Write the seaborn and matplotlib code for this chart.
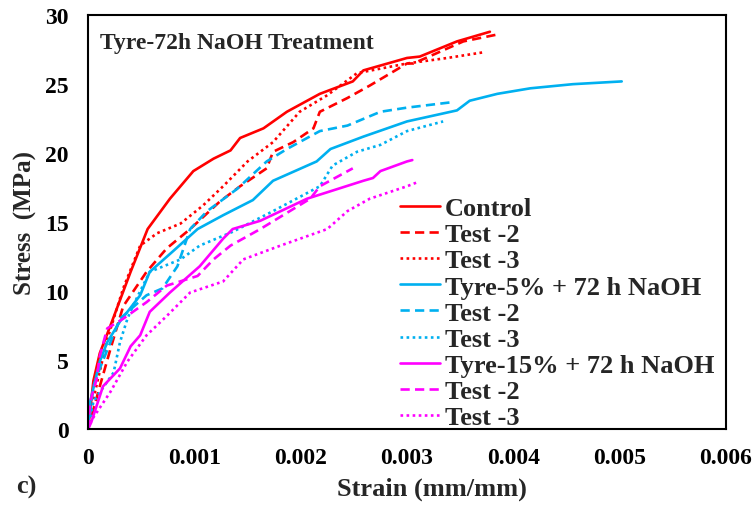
import matplotlib
matplotlib.use("Agg")
import matplotlib.pyplot as plt
import seaborn as sns
import pandas as pd

# ---- data (strain mm/mm, stress MPa) ----
ctrl1_x = [0, 0.00005, 0.00011, 0.00021, 0.0004, 0.00056, 0.00077, 0.00099, 0.00118, 0.00134, 0.00143, 0.00165, 0.00187, 0.00218, 0.00249, 0.00259, 0.0030, 0.00312, 0.00347, 0.00378]
ctrl1_y = [0, 3.5, 5.5, 7.5, 11.4, 14.5, 16.7, 18.7, 19.6, 20.2, 21.1, 21.8, 23.0, 24.3, 25.2, 26.0, 26.9, 27.0, 28.1, 28.8]
ctrl2_x = [0, 0.00011, 0.00021, 0.00033, 0.0004, 0.00055, 0.00074, 0.00096, 0.00124, 0.00143, 0.00168, 0.00174, 0.00193, 0.00212, 0.00218, 0.00244, 0.00265, 0.0030, 0.00306, 0.00353, 0.00385]
ctrl2_y = [0, 3.1, 5.8, 8.9, 9.7, 11.4, 13.1, 14.5, 16.5, 17.6, 18.9, 20.1, 20.8, 21.8, 23.0, 24.0, 24.9, 26.5, 26.5, 28.1, 28.6]
ctrl3_x = [0, 0.00005, 0.00018, 0.00033, 0.00049, 0.00065, 0.00087, 0.00108, 0.00127, 0.0015, 0.00174, 0.00199, 0.00225, 0.00253, 0.0030, 0.00338, 0.00371]
ctrl3_y = [0, 2.2, 6.5, 10.2, 13.3, 14.2, 14.9, 16.2, 17.6, 19.4, 20.8, 23.0, 24.2, 25.8, 26.5, 26.9, 27.3]

t5_1_x = [0, 0.00002, 0.00011, 0.00018, 0.0003, 0.00049, 0.00058, 0.0008, 0.00103, 0.00127, 0.00155, 0.00174, 0.00215, 0.00228, 0.00259, 0.0030, 0.00347, 0.00359, 0.00385, 0.00416, 0.00456, 0.00502]
t5_1_y = [0, 2.0, 4.9, 6.3, 7.8, 9.7, 11.4, 12.9, 14.5, 15.5, 16.6, 18.0, 19.4, 20.3, 21.2, 22.3, 23.1, 23.8, 24.3, 24.7, 25.0, 25.2]
t5_2_x = [0, 0.00005, 0.00011, 0.0003, 0.00055, 0.0007, 0.00084, 0.00096, 0.00112, 0.0014, 0.00168, 0.00187, 0.00218, 0.00244, 0.00275, 0.0030, 0.00343]
t5_2_y = [0, 3.1, 4.4, 8.0, 9.7, 10.2, 11.8, 14.5, 15.8, 17.4, 19.4, 20.3, 21.6, 22.0, 23.0, 23.3, 23.7]
t5_3_x = [0, 0.00005, 0.00024, 0.0003, 0.00037, 0.00042, 0.00058, 0.00087, 0.00105, 0.00136, 0.00174, 0.00218, 0.0023, 0.00253, 0.00275, 0.0030, 0.00334]
t5_3_y = [0, 2.0, 4.1, 6.3, 8.0, 8.9, 11.4, 12.3, 13.3, 14.3, 15.8, 17.6, 19.1, 20.1, 20.6, 21.6, 22.3]

t15_1_x = [0, 0.00003, 0.00014, 0.0003, 0.0004, 0.00049, 0.00058, 0.00077, 0.00105, 0.00127, 0.00136, 0.00162, 0.00206, 0.00259, 0.00268, 0.00275, 0.0030, 0.00305]
t15_1_y = [0, 0.5, 3.1, 4.4, 6.0, 6.8, 8.5, 9.9, 11.8, 13.8, 14.5, 15.1, 16.7, 18.0, 18.2, 18.7, 19.4, 19.5]
t15_2_x = [0, 0.00002, 0.00008, 0.00011, 0.00018, 0.00033, 0.00055, 0.00074, 0.00103, 0.00118, 0.00134, 0.00162, 0.00209, 0.00218, 0.00249]
t15_2_y = [0, 2.0, 3.6, 5.3, 7.3, 8.0, 9.2, 10.4, 11.1, 12.3, 13.3, 14.5, 16.7, 17.6, 18.9]
t15_3_x = [0, 0.00002, 0.00021, 0.00037, 0.00055, 0.00074, 0.00096, 0.00127, 0.00146, 0.00181, 0.00225, 0.00244, 0.00265, 0.0030, 0.0031]
t15_3_y = [0, 0.5, 2.7, 4.9, 6.8, 8.2, 9.9, 10.7, 12.3, 13.3, 14.5, 15.8, 16.7, 17.6, 17.9]

labels = ["Control", "Test -2", "Test -3",
          "Tyre-5% + 72 h NaOH", "Test -2", "Test -3",
          "Tyre-15% + 72 h NaOH", "Test -2", "Test -3"]
xticks = [0, 0.001, 0.002, 0.003, 0.004, 0.005, 0.006]
xticklabels = ["0", "0.001", "0.002", "0.003", "0.004", "0.005", "0.006"]
yticks = [0, 5, 10, 15, 20, 25, 30]

series = [(ctrl1_x, ctrl1_y), (ctrl2_x, ctrl2_y), (ctrl3_x, ctrl3_y),
          (t5_1_x, t5_1_y), (t5_2_x, t5_2_y), (t5_3_x, t5_3_y),
          (t15_1_x, t15_1_y), (t15_2_x, t15_2_y), (t15_3_x, t15_3_y)]
colors = ["#FF0000"] * 3 + ["#00B0F0"] * 3 + ["#FF00FF"] * 3
styles = ["-", (0, (3.5, 2)), (0, (1, 1.3))] * 3

sns.set_theme(style="white")
plt.rcParams["font.family"] = ["Liberation Serif", "DejaVu Serif"]
plt.rcParams["font.weight"] = "bold"

fig = plt.figure(figsize=(7.53, 5.06), dpi=100)
ax = fig.add_axes([0.117, 0.150, 0.847, 0.818])

for i, (xs, ys) in enumerate(series):
    df = pd.DataFrame({"strain": xs, "stress": ys})
    sns.lineplot(data=df, x="strain", y="stress", ax=ax, color=colors[i],
                 linestyle=styles[i], linewidth=1.9, sort=False,
                 estimator=None, label=labels[i])

ax.set_xlim(0, 0.006)
ax.set_ylim(0, 30)
ax.set_xticks(xticks)
ax.set_xticklabels(xticklabels)
ax.set_yticks(yticks)
ax.tick_params(direction="in", length=6, width=1.2, labelsize=17,
               colors="black")
ax.tick_params(axis="x", pad=13)
ax.tick_params(axis="y", pad=14)
for lab in ax.get_xticklabels() + ax.get_yticklabels():
    lab.set_fontweight("bold")
for s in ax.spines.values():
    s.set_visible(True)
    s.set_color("black")
    s.set_linewidth(1.5)

ax.set_xlabel("Strain (mm/mm)", fontsize=19, fontweight="bold")
ax.xaxis.label.set_va("center")
ax.xaxis.set_label_coords(0.539, -0.143)
ax.set_ylabel("Stress  (MPa)", fontsize=18, fontweight="bold", labelpad=6)
ax.text(0.018, 0.96, "Tyre-72h NaOH Treatment", transform=ax.transAxes,
        fontsize=17, fontweight="bold", va="top", ha="left")
fig.text(0.022, 0.036, "c)", fontsize=19, fontweight="bold", ha="left",
         va="center")

leg = ax.legend(loc="lower left", bbox_to_anchor=(0.489, 0.0), frameon=False,
                fontsize=19, handlelength=1.5, handletextpad=0.2,
                labelspacing=0.1, borderaxespad=0.0, borderpad=0.0)
for t in leg.get_texts():
    t.set_fontweight("bold")

fig.savefig("out.png", dpi=100)
